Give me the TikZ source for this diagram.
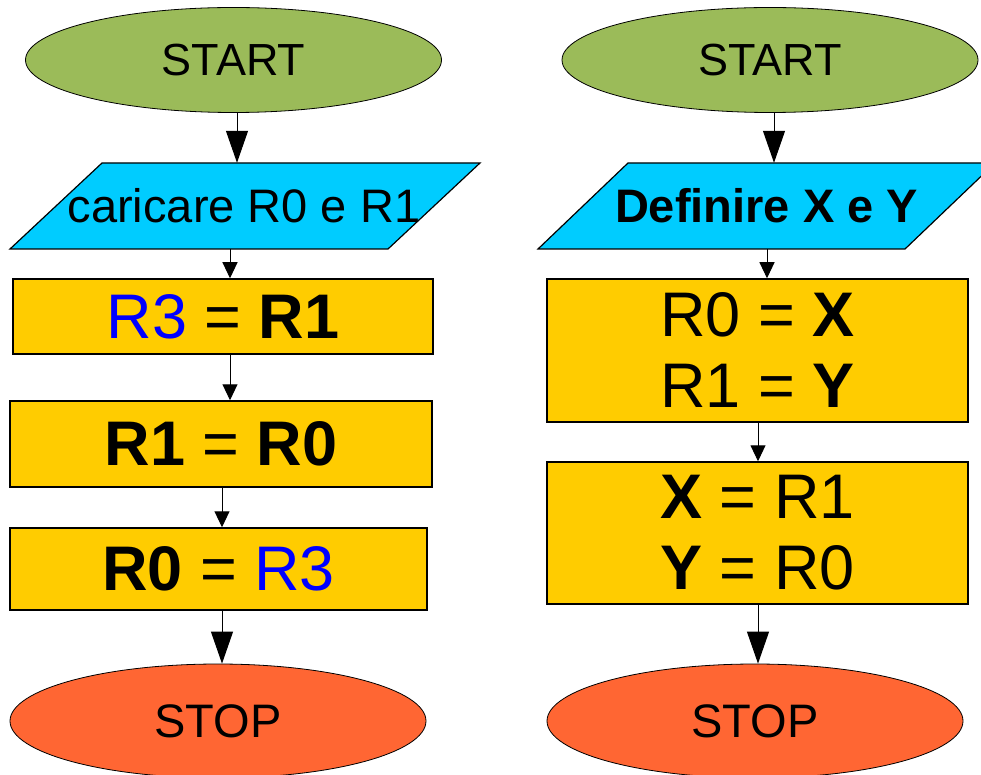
\documentclass[tikz,border=0pt]{standalone}
\usepackage{fontspec}
\setmainfont{Liberation Sans}
\usetikzlibrary{shapes.geometric,arrows.meta}
\definecolor{startgreen}{HTML}{9BBB59}
\definecolor{iocyan}{HTML}{00CCFF}
\definecolor{procyellow}{HTML}{FFCC00}
\definecolor{stoporange}{HTML}{FF6633}
\definecolor{regblue}{HTML}{0000FF}
\begin{document}
\begin{tikzpicture}[x=1pt,y=-1pt,
 term/.style={ellipse, draw=black, line width=0.8pt, inner sep=0pt},
 startnode/.style={term, fill=startgreen, minimum width=416, minimum height=105, font=\fontsize{45}{50}\selectfont},
 stopnode/.style={term, fill=stoporange, minimum width=416, minimum height=114, font=\fontsize{47}{52}\selectfont},
 procbox/.style={rectangle, draw=black, line width=1.5pt, fill=procyellow, inner sep=0pt, align=center, font=\fontsize{63}{71}\selectfont},
 iotext/.style={inner sep=0pt, minimum height=86, font=\fontsize{47}{52}\selectfont},
 iobox/.style={draw=black, line width=1.2pt, fill=iocyan},
 bigarrow/.style={-{Triangle[length=32pt,width=22pt]}, line width=1pt},
 smallarrow/.style={-{Triangle[length=16pt,width=15pt]}, line width=1pt},
]
\useasboundingbox (0,0) rectangle (981,775);
\clip (0,0) rectangle (981,775);

% column x positions for connectors
\coordinate (xl1) at (237,0);
\coordinate (xl2) at (230,0);
\coordinate (xl3) at (222,0);
\coordinate (xr1) at (774,0);
\coordinate (xr2) at (767,0);
\coordinate (xr3) at (758,0);

% ---------------- left flowchart ----------------
\node[startnode] (s1) at (233.5,60) {START};
\filldraw[iobox] (102,163) -- (480,163) -- (388,249) -- (10,249) -- cycle;
\node[iotext] (p1) at (244,206) {caricare R0 e R1};
\node[procbox, minimum width=420, minimum height=75] (b1) at (223,316.5)
  {\textcolor{regblue}{R3} = \textbf{R1}};
\node[procbox, minimum width=422, minimum height=86] (b2) at (221,444)
  {\textbf{R1} = \textbf{R0}};
\node[procbox, minimum width=417, minimum height=82] (b3) at (218.5,569)
  {\textbf{R0} = \textcolor{regblue}{R3}};
\node[stopnode] (e1) at (218,721) {STOP};

\draw[bigarrow] (s1.south -| xl1) -- (p1.north -| xl1);
\draw[smallarrow] (p1.south -| xl2) -- (b1.north -| xl2);
\draw[smallarrow] (b1.south -| xl2) -- (b2.north -| xl2);
\draw[smallarrow] (b2.south -| xl3) -- (b3.north -| xl3);
\draw[bigarrow] (b3.south -| xl3) -- (e1.north -| xl3);

% ---------------- right flowchart ----------------
\node[startnode] (s2) at (770,60) {START};
\filldraw[iobox] (628,163) -- (995,163) -- (905,249) -- (538,249) -- cycle;
\node[iotext] (p2) at (766.5,206) {\textbf{Definire X e Y}};
\node[procbox, minimum width=421, minimum height=143] (c1) at (757.5,350.5)
  {R0 = \textbf{X}\\R1 = \textbf{Y}};
\node[procbox, minimum width=421, minimum height=142] (c2) at (757.5,533)
  {\textbf{X} = R1\\\textbf{Y} = R0};
\node[stopnode] (e2) at (755,721) {STOP};

\draw[bigarrow] (s2.south -| xr1) -- (p2.north -| xr1);
\draw[smallarrow] (p2.south -| xr2) -- (c1.north -| xr2);
\draw[smallarrow] (c1.south -| xr3) -- (c2.north -| xr3);
\draw[bigarrow] (c2.south -| xr3) -- (e2.north -| xr3);
\end{tikzpicture}
\end{document}
